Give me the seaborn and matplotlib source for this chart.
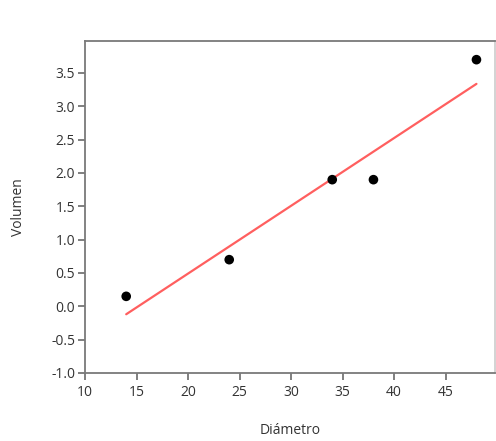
import matplotlib
matplotlib.use("Agg")
import matplotlib.pyplot as plt
import seaborn as sns
import pandas as pd

diametro = [14, 24, 34, 38, 48]
volumen = [0.15, 0.7, 1.9, 1.9, 3.7]
x_ticks = [10, 15, 20, 25, 30, 35, 40, 45]
y_ticks = [-1.0, -0.5, 0.0, 0.5, 1.0, 1.5, 2.0, 2.5, 3.0, 3.5]

df = pd.DataFrame({"Diámetro": diametro, "Volumen": volumen})

sns.set_theme(style="white")
plt.rcParams['font.family'] = ['Open Sans', 'DejaVu Sans']

fig = plt.figure(figsize=(4.96, 4.41), dpi=100)
ax = fig.add_axes([85/496, (441-373)/441, (495-85)/496, (373-41)/441])

sns.regplot(data=df, x="Diámetro", y="Volumen", ax=ax, ci=None,
            scatter_kws=dict(color="black", s=48, edgecolor="none", alpha=1, zorder=3),
            line_kws=dict(color="#ff5f5f", lw=1.6))

ax.set_xlim(10, 49.8)
ax.set_ylim(-1.0, 3.98)
ax.set_xticks(x_ticks)
ax.set_xticklabels([str(v) for v in x_ticks])
ax.set_yticks(y_ticks)
ax.set_yticklabels([f"{v:.1f}" for v in y_ticks])

for s in ax.spines.values():
    s.set_color("#7a7a7a")
    s.set_linewidth(1.3)
ax.spines['right'].set_color("#d0d0d0")
ax.tick_params(axis='both', direction='out', length=5, width=1.2, color="#6a6a6a",
               labelsize=10, labelcolor="#333333", bottom=True, left=True)
ax.tick_params(axis='x', pad=4)
ax.tick_params(axis='y', pad=2)
ax.set_xlabel("Diámetro", fontsize=10, color="#333333", labelpad=16)
ax.set_ylabel("Volumen", fontsize=10, color="#333333", labelpad=18)

fig.savefig("out.png", dpi=100)
